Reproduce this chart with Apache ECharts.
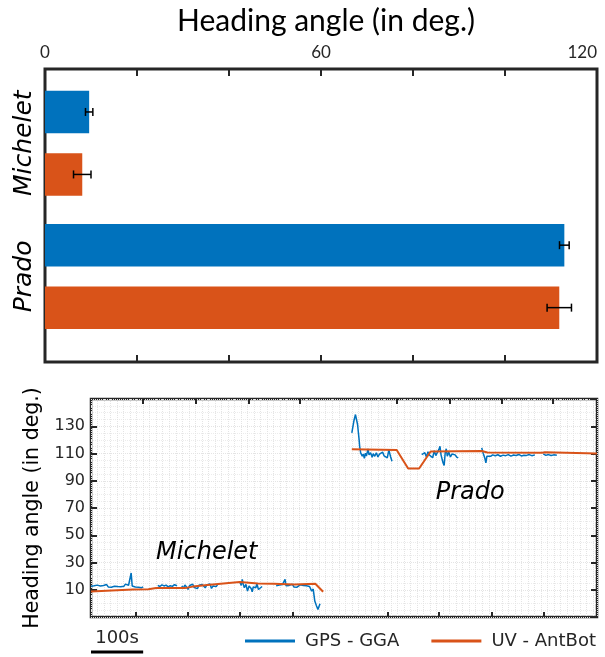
<!DOCTYPE html>
<html>
<head>
<meta charset="utf-8">
<script src="https://cdn.jsdelivr.net/npm/echarts@6/dist/echarts.min.js"></script>
<style>
  html, body { margin: 0; padding: 0; background: #fff; }
  #main { width: 605px; height: 657px; }
</style>
</head>
<body>
<div id="main"></div>
<script>
// bar chart: mean heading angle and error per site
var sites = ["Michelet", "Prado"];
var gpsMean = [9.6, 112.9];
var gpsErr = [0.8, 1.05];
var uvMean = [8.1, 111.8];
var uvErr = [1.9, 2.65];

// time series (s, deg.), null = gap in the record
var gpsTime = [
  0, 3, 6, 9, 12, 15, 18, 21, 24, 27, 30, 33, 36, 39, 42, 45, 48, 51, 54, 57, 60, 63, 66, 69, 72, 75, 77, 79, 82, 85, 88, 91, 94, 97, 100, null,
  128, 132, 136, 140, 144, 148, 152, 156, 160, 165, null,
  174, 177, 180, 183, 186, 189, 192, 195, 198, 201, 204, 207, 210, 213, 216, 219, 222, 225, 228, 231, 234, 237, 240, 243, null,
  286, 288, 290, 292, 294, 297, 300, 303, 305, 307, 309, 311, 313, 316, 318, 321, 324, 328, null,
  355, 358, 361, 364, 367, 370, 372, 374, 377, 380, 383, 386, 389, 392, 395, 398, 401, 404, 407, 410, 413, 416, 419, 421, 423, 426, 429, 432, 435, 439, null,
  500, 504, 507, 509, 511, 514, 515, 517, 520, 522, 524, 526, 528, 531, 533, 536, 539, 541, 544, 547, 550, 553, 556, 559, 562, 565, 568, 571, 574, 577, null,
  634, 637, 640, 643, 646, 649, 652, 655, 658, 661, 664, 667, 669, 671, 673, 675, 677, 679, 681, 683, 686, 689, 692, 695, 698, 701, 704, null,
  749, 752, 755, 757, 759, 762, 766, 770, 775, 780, 785, 790, 795, 800, 805, 810, 815, 820, 825, 830, 835, 840, 845, 851, null,
  867, 872, 877, 882, 887, 893
];
var gpsAngle = [
  12.5, 11.8, 12.9, 12.2, 13.4, 12.0, 12.8, 11.6, 13.1, 12.4, 13.8, 12.1, 12.9, 11.9, 13.2, 12.6, 13.9, 12.3, 13.0, 12.2, 13.6, 12.5, 14.1, 12.7, 13.3, 12.4, 22.3, 12.8, 13.5, 12.0, 12.9, 11.8, 12.6, 11.5, 12.1, null,
  13.2, 12.4, 13.6, 12.8, 13.4, 12.1, 13.0, 12.5, 13.7, 12.9, null,
  12.8, 11.2, 13.5, 12.0, 10.3, 13.1, 12.4, 14.0, 11.6, 12.9, 10.8, 13.3, 12.2, 13.8, 12.6, 11.4, 13.5, 12.7, 14.2, 11.0, 12.8, 13.6, 12.3, 13.9, null,
  15.1, 13.2, 17.6, 13.8, 11.5, 13.9, 9.0, 12.7, 11.8, 11.0, 8.5, 12.0, 12.7, 11.5, 14.4, 10.2, 11.5, 12.4, null,
  12.9, 11.8, 13.4, 12.2, 13.8, 12.5, 17.6, 12.9, 11.6, 13.2, 12.4, 14.0, 12.1, 13.3, 11.9, 12.8, 13.6, 12.3, 13.1, 11.8, 12.9, 13.5, 12.4, 13.0, 9.0, 10.5, 1.7, -1.5, -4.5, -0.3, null,
  125.2, 134, 138.6, 139.1, 131.3, 120, 115.3, 110.5, 108, 109.5, 106.5, 110.2, 108.1, 113.4, 109, 110.5, 107.2, 109.8, 108, 110.6, 107.5, 109.5, 108.6, 111, 108.2, 109.4, 106.8, 112.7, 108, 104.3, null,
  109.2, 108, 110.6, 107.5, 111.3, 108.8, 110, 106.9, 112, 108.5, 110.8, 113, 115.3, 109, 106, 103, 101.2, 110.5, 113.5, 108, 111, 107.5, 109.6, 108.2, 109, 107.4, 106.8, null,
  114.1, 110, 106.5, 103.1, 108, 109.2, 107.9, 109.0, 108.3, 109.1, 108.0, 108.8, 108.4, 109.2, 108.1, 108.9, 108.5, 109.3, 108.2, 108.7, 108.6, 109.2, 108.4, 109.0, null,
  109.8, 108.6, 109.2, 108.5, 109.0, 108.7
];
var uvTime = [0, 80, 110, 125, 180, 195, 228, 285, 320, 350, 390, 430, 445, null, 500, 586, 608, 629, 651, 749, 760, 865, 870, 970];
var uvAngle = [8.8, 10.2, 10.4, 11.2, 11.2, 12.3, 13.6, 15.6, 14.6, 14.4, 13.9, 14.4, 8.5, null, 113.2, 112.6, 99, 99, 111.5, 111.8, 110.8, 110.5, 110.9, 110];

// tick positions of the time axis (s)
var bottomTicks = [86, 185, 286, 386, 568, 667, 769, 868];
var topTicks = [100, 201, 302, 401, 587, 688, 788, 886];

var blue = "#0072BD";
var orange = "#D95319";
var ink = "#262626";
var barW = 42.5;
var barGapRatio = 0.47;

function toPairs(ts, vs) {
  return ts.map(function (t, i) {
    return vs[i] == null ? ["-", "-"] : [t, vs[i]];
  });
}

function errRender(sign) {
  return function (params, api) {
    var m = api.value(0), e = api.value(1), idx = api.value(2);
    var off = sign * (barW + barW * barGapRatio) / 2;
    var a = api.coord([m - e, idx]);
    var b = api.coord([m + e, idx]);
    var y = a[1] + off;
    var st = { stroke: "#000", lineWidth: 1.5 };
    return {
      type: "group",
      children: [
        { type: "line", shape: { x1: a[0], y1: y, x2: b[0], y2: y }, style: st },
        { type: "line", shape: { x1: a[0], y1: y - 4, x2: a[0], y2: y + 4 }, style: st },
        { type: "line", shape: { x1: b[0], y1: y - 4, x2: b[0], y2: y + 4 }, style: st },
      ],
    };
  };
}

var chart = echarts.init(document.getElementById("main"));

var noLine = { show: false, onZero: false };

var option = {
  animation: false,
  title: {
    text: "Heading angle (in deg.)",
    left: 321,
    textAlign: "center",
    top: 1,
    textStyle: { fontFamily: "Lato", fontSize: 30, fontWeight: "normal", color: "#000" },
  },
  legend: {
    left: 245,
    top: 632,
    width: 360,
    padding: 0,
    itemWidth: 50,
    itemHeight: 3,
    itemGap: 32,
    icon: "rect",
    data: ["GPS - GGA", "UV - AntBot"],
    textStyle: { fontFamily: "DejaVu Sans", fontSize: 18, color: ink, padding: [0, 0, 0, 5] },
  },
  grid: [
    // box of the bar chart
    { left: 45, right: 8, top: 69, bottom: 295, show: true, borderColor: ink, borderWidth: 3, outerBoundsMode: "none" },
    // bars
    { left: 45, right: 8, top: 76.6, bottom: 314, outerBoundsMode: "none" },
    // time series
    { left: 91, right: 8, top: 399, bottom: 40, show: true, borderColor: ink, borderWidth: 2.5, outerBoundsMode: "none" },
  ],
  xAxis: [
    {
      gridIndex: 0, type: "value", position: "top", min: 0, max: 120, interval: 20,
      axisLine: noLine,
      axisTick: { inside: true, length: 7, lineStyle: { color: ink, width: 2 } },
      axisLabel: {
        customValues: [0, 60, 120], margin: 8, alignMaxLabel: "right",
        fontFamily: "Lato", fontSize: 17, color: ink,
      },
      splitLine: { show: false },
    },
    {
      gridIndex: 0, type: "value", position: "bottom", min: 0, max: 120, interval: 20,
      axisLine: noLine,
      axisTick: { inside: true, length: 7, lineStyle: { color: ink, width: 2 } },
      axisLabel: { show: false },
      splitLine: { show: false },
    },
    { gridIndex: 1, type: "value", min: 0, max: 120, show: false },
    {
      gridIndex: 2, type: "value", position: "bottom", min: 0, max: 970,
      axisLine: noLine,
      axisTick: { inside: true, length: 5, customValues: bottomTicks, lineStyle: { color: ink, width: 2 } },
      axisLabel: { show: false },
      splitLine: { show: false },
    },
    {
      gridIndex: 2, type: "value", position: "top", min: 0, max: 970,
      axisLine: noLine,
      axisTick: { inside: true, length: 5, customValues: topTicks, lineStyle: { color: ink, width: 2 } },
      axisLabel: { show: false },
      splitLine: { show: false },
    },
    {
      // fine vertical grid
      gridIndex: 2, type: "value", min: 0, max: 970, interval: 12.5,
      axisLine: noLine, axisTick: { show: false }, axisLabel: { show: false },
      splitLine: { show: true, lineStyle: { color: "#e4e4e4", type: "dotted", width: 1 } },
    },
  ],
  yAxis: [
    { gridIndex: 0, type: "value", min: 0, max: 1, show: false },
    {
      gridIndex: 1, type: "category", data: sites, inverse: true,
      axisLine: noLine, axisTick: { show: false },
      axisLabel: {
        interval: 0, rotate: 90, margin: 8, fontFamily: "DejaVu Sans", fontStyle: "italic",
        fontSize: 25, color: "#000", hideOverlap: false,
      },
    },
    {
      gridIndex: 2, type: "value", min: -10, max: 150, interval: 20,
      name: "Heading angle (in deg.)", nameLocation: "middle", nameGap: 46,
      nameTextStyle: { fontFamily: "DejaVu Sans", fontSize: 20.5, color: "#000" },
      axisLine: noLine,
      axisTick: { inside: true, length: 6, lineStyle: { color: ink, width: 2 } },
      axisLabel: { showMinLabel: false, showMaxLabel: false, margin: 6, fontFamily: "DejaVu Sans", fontSize: 16, color: ink },
      splitLine: { show: true, lineStyle: { color: "#e4e4e4", type: "dotted" } },
      minorTick: { show: false, splitNumber: 4 },
      minorSplitLine: { show: true, lineStyle: { color: "#ececec", type: "dotted" } },
    },
    {
      gridIndex: 2, type: "value", position: "right", min: -10, max: 150, interval: 20,
      axisLine: noLine,
      axisTick: { inside: true, length: 6, lineStyle: { color: ink, width: 2 } },
      axisLabel: { show: false },
      splitLine: { show: false },
    },
  ],
  series: [
    {
      name: "GPS - GGA", type: "bar", xAxisIndex: 2, yAxisIndex: 1,
      data: gpsMean, barWidth: barW, barGap: barGapRatio * 100 + "%",
      itemStyle: { color: blue },
    },
    {
      name: "UV - AntBot", type: "bar", xAxisIndex: 2, yAxisIndex: 1,
      data: uvMean, barWidth: barW, barGap: barGapRatio * 100 + "%",
      itemStyle: { color: orange },
    },
    {
      type: "custom", xAxisIndex: 2, yAxisIndex: 1, z: 5,
      renderItem: errRender(-1),
      data: gpsMean.map(function (m, i) { return [m, gpsErr[i], i]; }),
      encode: { x: 0, y: 2 },
    },
    {
      type: "custom", xAxisIndex: 2, yAxisIndex: 1, z: 5,
      renderItem: errRender(1),
      data: uvMean.map(function (m, i) { return [m, uvErr[i], i]; }),
      encode: { x: 0, y: 2 },
    },
    {
      name: "GPS - GGA", type: "line", xAxisIndex: 3, yAxisIndex: 2,
      data: toPairs(gpsTime, gpsAngle), showSymbol: false, connectNulls: false, z: 3,
      lineStyle: { color: blue, width: 1.5 }, itemStyle: { color: blue },
    },
    {
      name: "UV - AntBot", type: "line", xAxisIndex: 3, yAxisIndex: 2,
      data: toPairs(uvTime, uvAngle), showSymbol: false, connectNulls: false, z: 4,
      lineStyle: { color: orange, width: 2 }, itemStyle: { color: orange },
    },
  ],
};
chart.setOption(option);

// site names and 100 s scale bar, placed through the time-series axes
function px(t, v) {
  return chart.convertToPixel({ xAxisIndex: 3, yAxisIndex: 2 }, [t, v]);
}
var pMich = px(222, 37);
var pPrado = px(727, 81);
var s0 = px(0, -10);
var s1 = px(100, -10);
var italicText = { fontFamily: "DejaVu Sans", fontStyle: "italic", fontSize: 24, fill: "#000", textAlign: "center", textVerticalAlign: "middle" };
chart.setOption({
  graphic: [
    { type: "text", x: pMich[0], y: pMich[1], style: Object.assign({ text: "Michelet" }, italicText) },
    { type: "text", x: pPrado[0], y: pPrado[1], style: Object.assign({ text: "Prado" }, italicText) },
    { type: "line", shape: { x1: s0[0], y1: s0[1] + 35, x2: s1[0], y2: s1[1] + 35 }, style: { stroke: "#000", lineWidth: 3 } },
    {
      type: "text", x: (s0[0] + s1[0]) / 2, y: s0[1] + 21,
      style: { text: "100s", fontFamily: "DejaVu Sans", fontSize: 18, fill: ink, textAlign: "center", textVerticalAlign: "middle" },
    },
  ],
});
</script>
</body>
</html>
